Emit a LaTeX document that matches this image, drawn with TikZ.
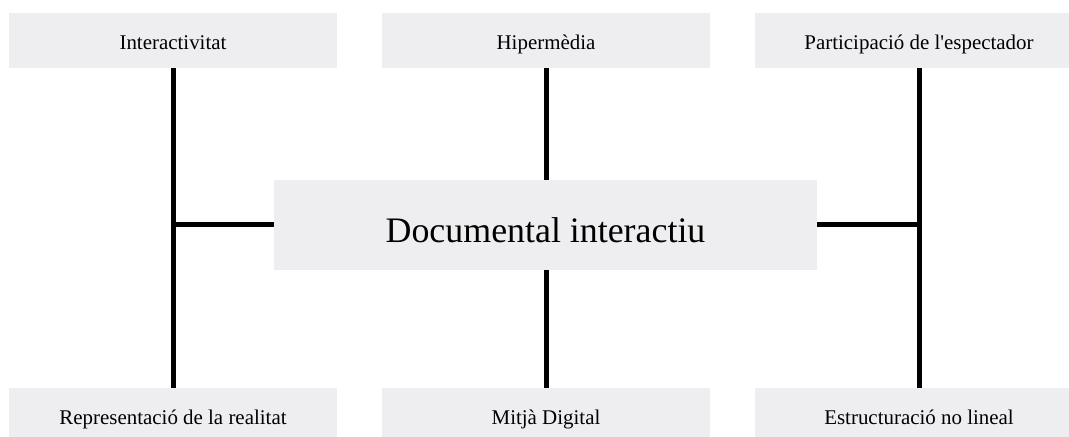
\documentclass[tikz,border=0pt]{standalone}
\usepackage{fontspec}
\setmainfont{Liberation Serif}
\definecolor{boxgray}{RGB}{238,238,240}
\tikzset{
  topic/.style={fill=boxgray, draw=none, inner sep=0pt,
    minimum width=328bp, minimum height=55bp,
    text height=18bp, text depth=0bp,
    font=\fontsize{21}{25}\selectfont},
  core/.style={fill=boxgray, draw=none, inner sep=0pt,
    minimum width=543bp, minimum height=90bp,
    text height=36bp, text depth=0bp,
    font=\fontsize{36}{42}\selectfont},
  link/.style={line width=5bp, black}
}
\begin{document}
\begin{tikzpicture}[x=1bp, y=-1bp]
  \clip (0,0) rectangle (1069,437);
  \fill[white] (0,0) rectangle (1069,437);

  % upper row
  \node[topic] (tl) at (173,40.5) {Interactivitat};
  \node[topic] (tm) at (546,40.5) {Hipermèdia};
  \node[topic] (tr) at (919,40.5) {Participació de l\textquotesingle espectador};

  % lower row
  \node[topic] (bl) at (173,415.5) {Representació de la realitat};
  \node[topic] (bm) at (546,415.5) {Mitjà Digital};
  \node[topic] (br) at (919,415.5) {Estructuració no lineal};

  % central concept
  \node[core] (doc) at (545.5,225) {Documental interactiu};

  % vertical spines
  \draw[link] (tl.south) -- (bl.north);
  \draw[link] (tr.south) -- (br.north);
  \draw[link] (tm.south) -- (tm.south |- doc.north);
  \draw[link] (bm.north |- doc.south) -- (bm.north);

  % branches into the central concept
  \coordinate (jl) at (tl.south |- doc.west);
  \coordinate (jr) at (tr.south |- doc.east);
  \draw[link] (jl) -- (doc.west);
  \draw[link] (doc.east) -- (jr);
\end{tikzpicture}
\end{document}
